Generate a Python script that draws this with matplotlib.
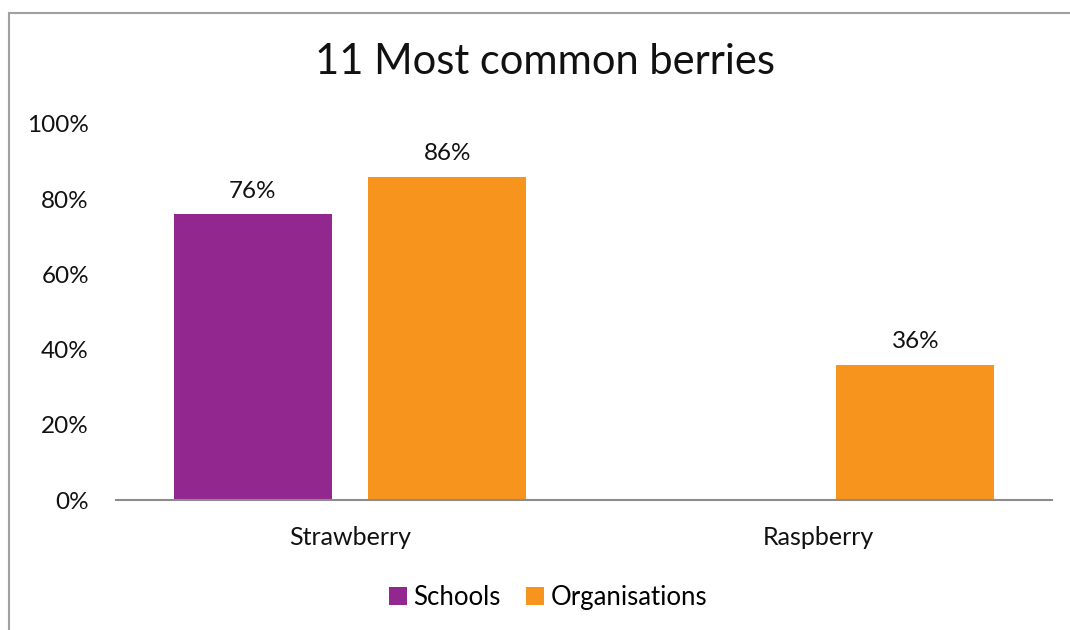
import matplotlib.pyplot as plt
from matplotlib.patches import Rectangle
import numpy as np

plt.rcParams['font.family'] = ['Lato', 'DejaVu Sans']

# Data
categories = ['Strawberry', 'Raspberry']
schools = [76, np.nan]
organisations = [86, 36]
series_names = ['Schools', 'Organisations']
colors = ['#92278F', '#F7941D']
y_ticks = [0, 20, 40, 60, 80, 100]

fig = plt.figure(figsize=(10.7, 6.3), dpi=100)
ax = fig.add_axes([0.1084, 0.2063, 0.8748, 0.597])

# Chart border (only top and left visible in the reference)
fig.patches.append(Rectangle((9 / 1070, -0.1), 1.2, (630 - 13) / 630 + 0.1,
                             transform=fig.transFigure, fill=False,
                             edgecolor='#A0A0A0', linewidth=1.5))

x = np.arange(len(categories))
width = 0.338
offset = 0.208

for vals, off, name, col in zip([schools, organisations], [-offset, offset],
                                series_names, colors):
    ax.bar(x + off, vals, width, color=col, label=name)
    for xi, v in zip(x + off, vals):
        if not np.isnan(v):
            ax.text(xi, v + 3.3, f'{v:.0f}%', ha='center', va='bottom',
                    fontsize=17.5, color='#111111')

ax.set_xlim(-0.5, 1.5)
ax.set_ylim(0, 100)
ax.set_yticks(y_ticks)
ax.set_yticklabels([f'{t}%' for t in y_ticks], fontsize=17.5, color='#111111')
ax.set_xticks(x)
ax.set_xticklabels(categories, fontsize=18, color='#111111')
ax.tick_params(axis='y', length=0, pad=19.5)
ax.tick_params(axis='x', length=0, pad=19)

for s in ['top', 'right', 'left']:
    ax.spines[s].set_visible(False)
ax.spines['bottom'].set_color('#8C8C8C')
ax.spines['bottom'].set_linewidth(1.5)

fig.text(0.509, 0.902, '11 Most common berries', ha='center', va='center',
         fontsize=30, color='#111111')

fig.legend(loc='center', bbox_to_anchor=(0.512, 0.052), ncol=2, frameon=False,
           fontsize=18.5, handlelength=0.7, handleheight=0.7,
           handletextpad=0.25, columnspacing=1.0)

fig.savefig('out.png', dpi=100)
